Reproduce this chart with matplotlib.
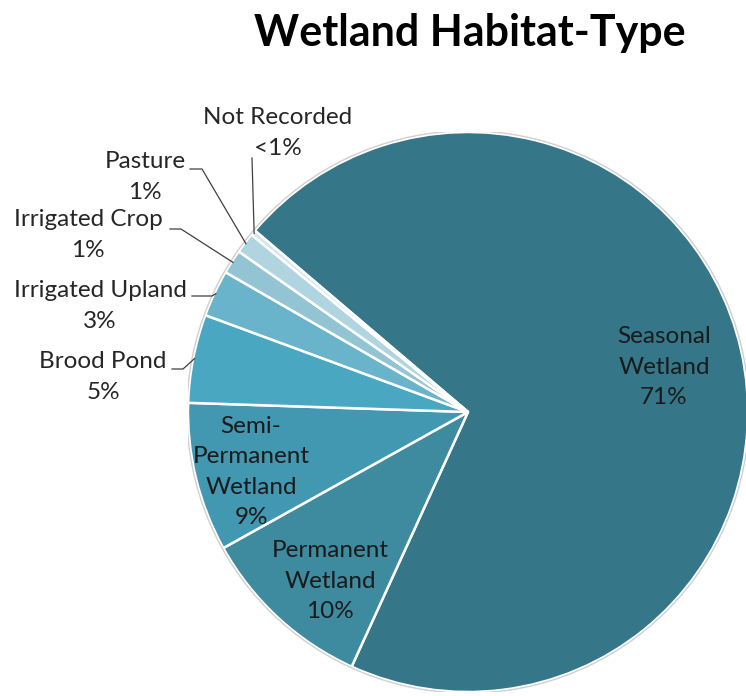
import numpy as np
import matplotlib.pyplot as plt

# habitat types, clockwise from the large slice
habitats = ['Seasonal\nWetland', 'Permanent\nWetland', 'Semi-\nPermanent\nWetland',
            'Brood Pond', 'Irrigated Upland', 'Irrigated Crop', 'Pasture', 'Not Recorded']
shares = [70.6, 10.1, 8.6, 5.1, 2.7, 1.4, 1.2, 0.3]
colors = ['#357789', '#3e8a9f', '#4398b1', '#4aa7c2', '#69b4ca', '#92c4d4', '#b0d5e0', '#d3e7ee']

W, H = 746, 696
CX, CY, R = 468, 412, 280

plt.rcParams['font.family'] = ['Lato', 'DejaVu Sans']

fig = plt.figure(figsize=(W / 100, H / 100), dpi=100)
ax = fig.add_axes([(CX - R) / W, (H - CY - R) / H, 2 * R / W, 2 * R / H])


def px(x, y):
    # pixel position (from top-left) -> data coords of the pie axes
    return (x - CX) / R, (CY - y) / R


def pct(v):
    return '<1%' if v < 0.5 else f'{round(v):.0f}%'


wedges, _ = ax.pie(shares, colors=colors, startangle=139.6, counterclock=False,
                   radius=1, wedgeprops=dict(edgecolor='white', linewidth=1.8))
ax.add_patch(plt.Circle((0, 0), 1.004, fill=False, edgecolor='#d0d0d0', linewidth=1.0))
ax.set_xlim(-1, 1)
ax.set_ylim(-1, 1)
ax.set_aspect('equal')
ax.axis('off')

FS, LS = 17.5, 1.55

# labels drawn inside the large slices
inside = {0: (664, 367), 1: (330, 581), 2: (251, 472)}
for i, (x, y) in inside.items():
    ax.text(*px(x, y), f'{habitats[i]}\n{pct(shares[i])}', ha='center', va='center',
            fontsize=FS, color='#1a1a1a', linespacing=LS)

# small slices: text outside with a leader line to the wedge edge
outside = {
    3: ((103, 377), (172, 369), (183, 369)),
    4: ((100, 306), (192, 296), (212, 296)),
    5: ((88, 235), (170, 229), (181, 229)),
    6: ((145, 177), (190, 169), (202, 169)),
    7: ((278, 133), (252, 158), (252, 158)),
}
for i, (txt, p0, p1) in outside.items():
    w = wedges[i]
    mid = np.deg2rad((w.theta1 + w.theta2) / 2)
    ex, ey = 0.995 * np.cos(mid), 0.995 * np.sin(mid)
    ax.text(*px(*txt), f'{habitats[i]}\n{pct(shares[i])}', ha='center', va='center',
            fontsize=FS, color='#262626', linespacing=LS)
    xs = [px(*p0)[0], px(*p1)[0], ex]
    ys = [px(*p0)[1], px(*p1)[1], ey]
    ax.plot(xs, ys, color='#404040', linewidth=0.9, clip_on=False)

fig.text(470 / W, 1 - 33 / H, 'Wetland Habitat-Type', ha='center', va='center',
         fontsize=31, fontweight='bold', color='black')

fig.savefig('out.png', dpi=100)
